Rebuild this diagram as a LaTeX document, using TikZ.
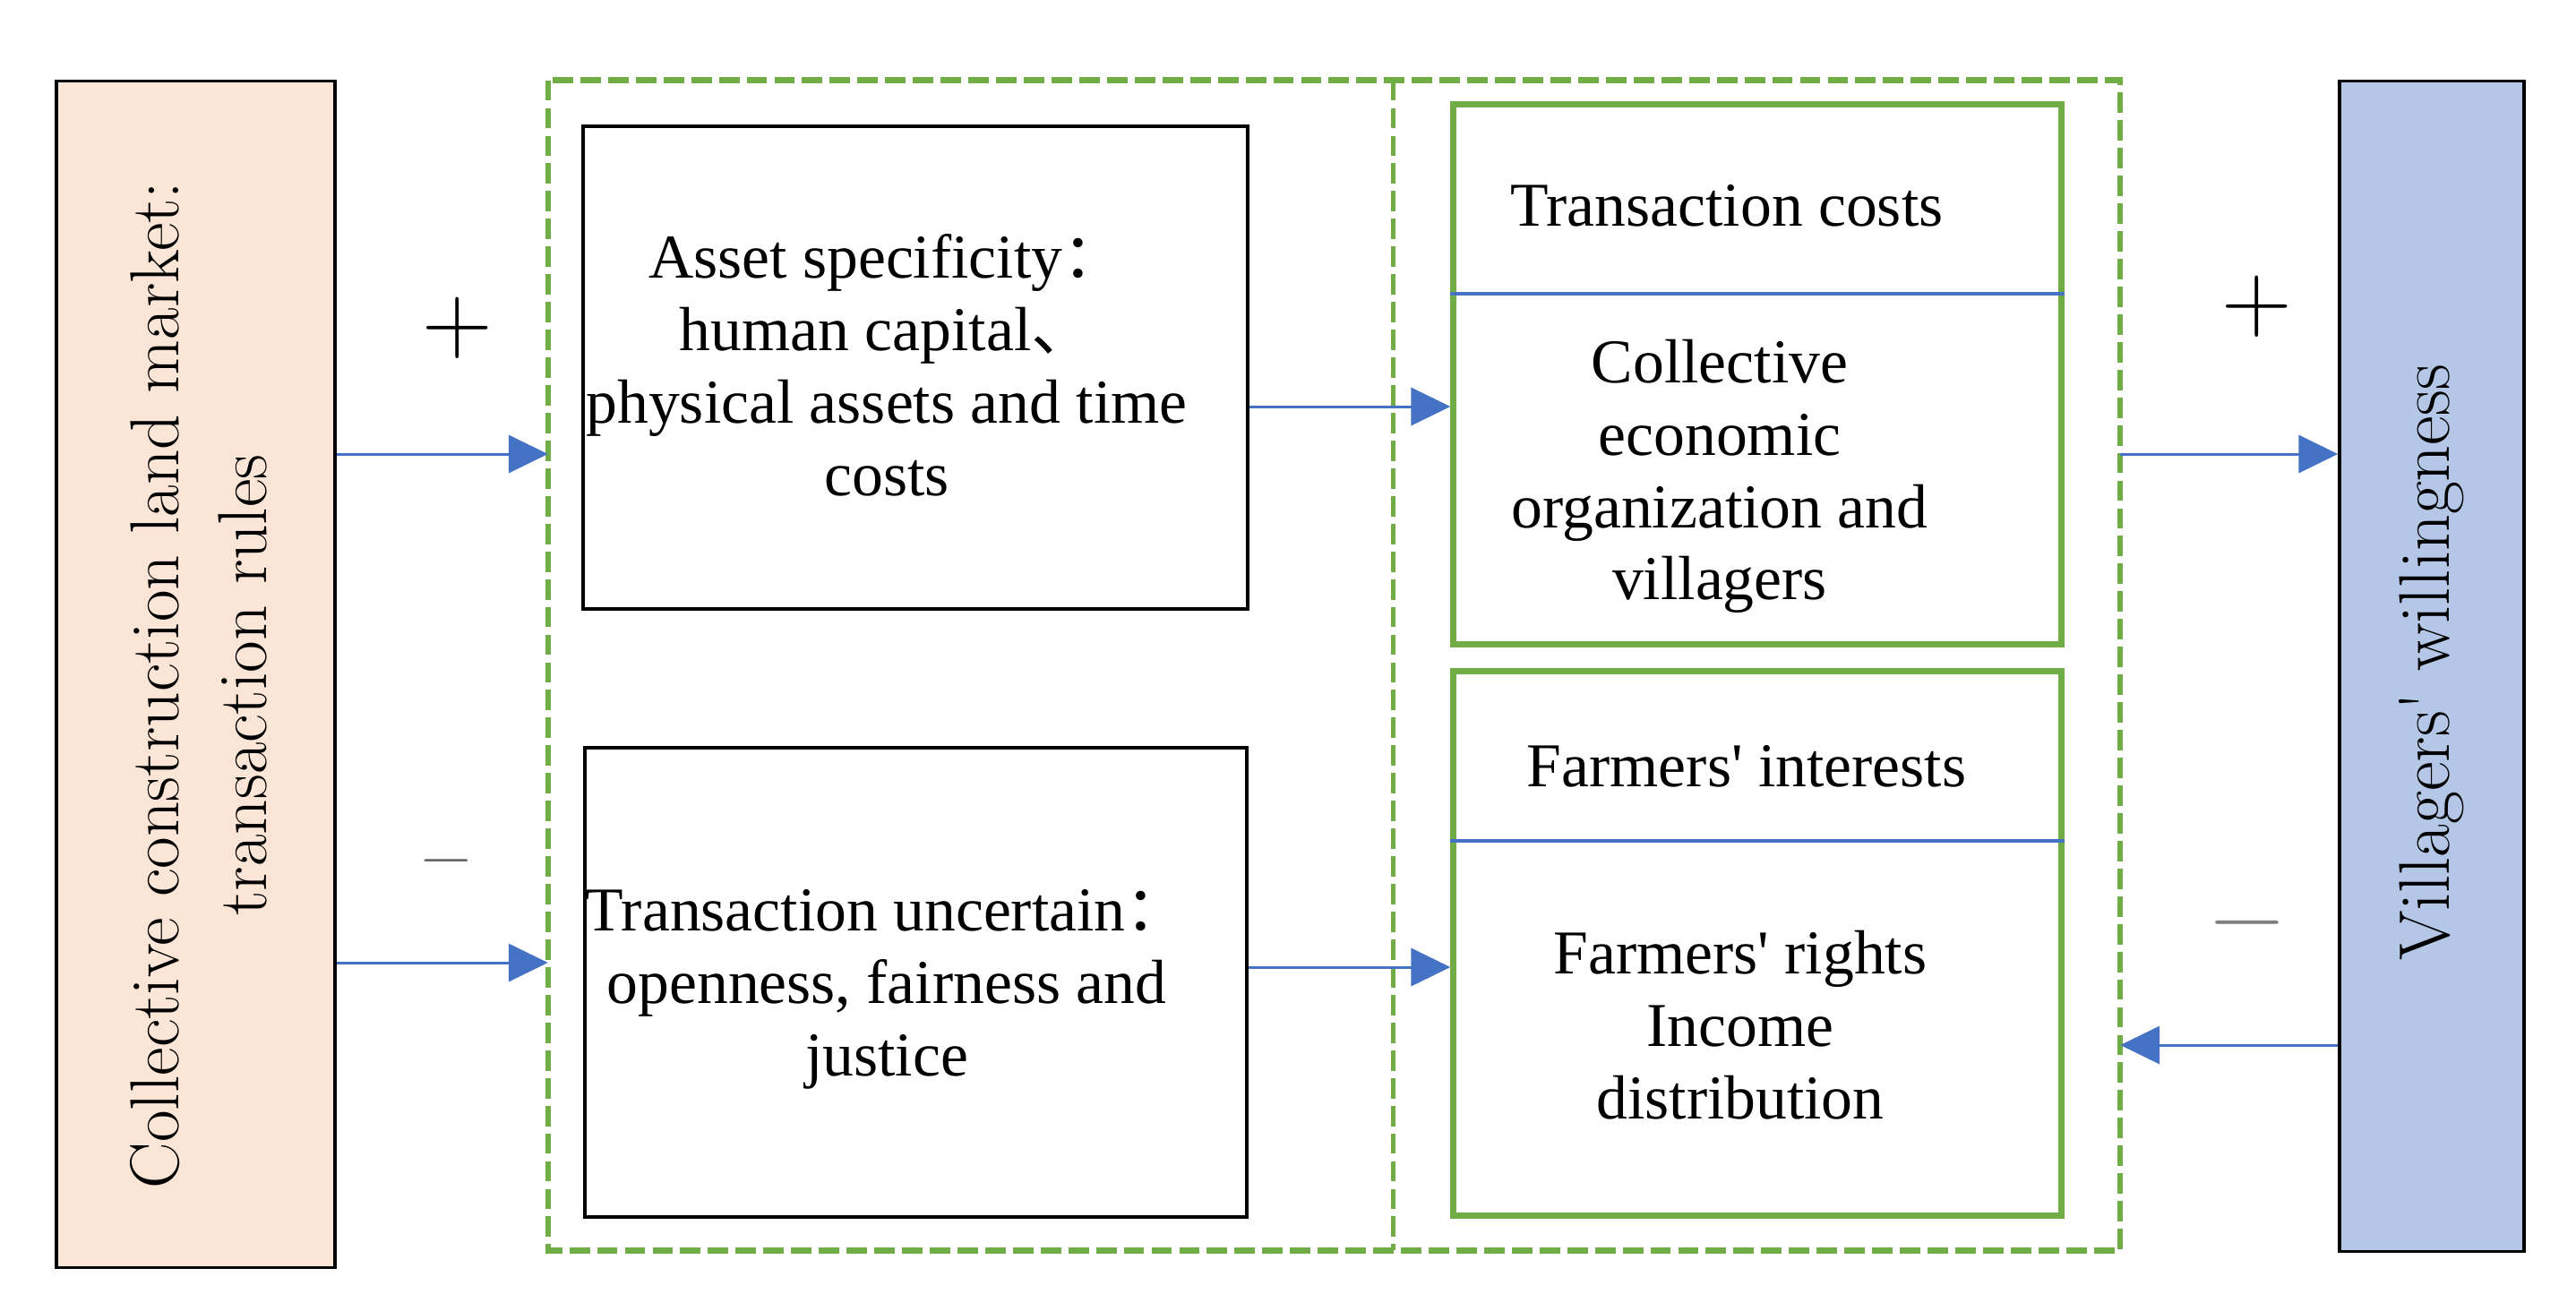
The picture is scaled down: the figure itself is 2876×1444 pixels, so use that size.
\documentclass[tikz,border=0pt]{standalone}
\usepackage{fontspec}
\newfontfamily\tnr{Liberation Serif}
\newfontfamily\cjk{Noto Sans CJK SC}
\usetikzlibrary{arrows.meta}
\definecolor{peach}{HTML}{FBE5D6}
\definecolor{lblue}{HTML}{B4C7E7}
\definecolor{grn}{HTML}{70AD47}
\definecolor{ablue}{HTML}{4472C4}
\begin{document}
\begin{tikzpicture}[x=0.01cm,y=-0.01cm,
  blackbox/.style={draw=black,line width=1pt,inner sep=0pt},
  greenbox/.style={draw=grn,line width=2pt,inner sep=0pt},
  group/.style={draw=grn,line width=1.8pt,dash pattern=on 6.5pt off 2.3pt},
  middash/.style={draw=grn,line width=1.4pt,dash pattern=on 6.5pt off 2.3pt},
  divline/.style={draw=ablue,line width=0.9pt},
  arr/.style={draw=ablue,line width=0.85pt,-{Triangle[length=12.5pt,width=12pt]}},
  mtext/.style={font={\tnr\fontsize{19.8pt}{23pt}\selectfont},align=center,inner sep=0pt},
  rottext/.style={rotate=90,align=center,inner sep=0pt},
  sign/.style={inner sep=0pt}]
\useasboundingbox (0,0) rectangle (2876,1444);
% main boxes
\node[blackbox,fill=peach,minimum width=3.11cm,minimum height=13.24cm] (lbox) at (218.5,753) {};
\node[blackbox,fill=lblue,minimum width=2.06cm,minimum height=13.06cm] (rbox) at (2715,744) {};
\node[inner sep=0pt,outer sep=0pt,minimum width=9.43cm,minimum height=13.06cm] (grpL) at (1083.5,743) {};
\node[inner sep=0pt,outer sep=0pt,minimum width=8.12cm,minimum height=13.06cm] (grpR) at (1961,743) {};
\draw[group] (grpL.north west) rectangle (grpR.south east);
\draw[middash] (grpL.north east) -- (grpL.south east);
\node[blackbox,minimum width=7.42cm,minimum height=5.39cm] (asset) at (1022,410.5) {};
\node[blackbox,minimum width=7.39cm,minimum height=5.24cm] (uncert) at (1022.5,1097) {};
\node[greenbox,minimum width=6.78cm,minimum height=6.02cm] (g1) at (1962,418) {};
\node[greenbox,minimum width=6.78cm,minimum height=6.07cm] (g2) at (1962,1053.5) {};
% dividers
\coordinate (d1) at (0,328);
\coordinate (d2) at (0,939);
\draw[divline] (g1.west |- d1) -- (g1.east |- d1);
\draw[divline] (g2.west |- d2) -- (g2.east |- d2);
% texts
\node[rottext,font={\fontsize{22pt}{28pt}\selectfont}] (lT) at (222,765) {Collective construction land market:\\transaction rules};
\node[rottext,font={\fontsize{22.8pt}{28pt}\selectfont}] (rT) at (2715,740) {Villagers\textquotesingle\ willingness};
\node[mtext] (assetT) at (990,408) {Asset specificity{\cjk ：}\\human capital{\cjk 、}\\physical assets and time\\costs};
\node[mtext] (uncertT) at (990,1105) {Transaction uncertain{\cjk ：}\\openness, fairness and\\justice};
\node[mtext,anchor=base] (g1title) at (1928,252) {Transaction costs};
\node[mtext] (g1T) at (1920,532) {Collective\\economic\\organization and\\villagers};
\node[mtext,anchor=base] (g2title) at (1950,878) {Farmers\textquotesingle\ interests};
\node[mtext] (g2T) at (1943,1145) {Farmers\textquotesingle\ rights\\Income\\distribution};
% signs
\node[sign,font={\fontsize{31pt}{31pt}\selectfont}] (p1) at (511,366) {+};
\node[sign,font={\fontsize{31pt}{31pt}\selectfont}] (p2) at (2520,342) {+};
\node[sign,text=black!60,font={\fontsize{22pt}{22pt}\selectfont}] (m1) at (498,970) {−};
\node[sign,text=black!50,font={\fontsize{32pt}{32pt}\selectfont}] (m2) at (2509,1043) {−};
% arrows
\coordinate (ya) at (0,507);
\coordinate (yb) at (0,1075);
\coordinate (yc) at (0,454);
\coordinate (yd) at (0,1080);
\coordinate (ye) at (0,1167);
\draw[arr] (lbox.east |- ya) -- (grpL.west |- ya);
\draw[arr] (lbox.east |- yb) -- (grpL.west |- yb);
\draw[arr] (asset.east |- yc) -- (g1.west |- yc);
\draw[arr] (uncert.east |- yd) -- (g2.west |- yd);
\draw[arr] (grpR.east |- ya) -- (rbox.west |- ya);
\draw[arr] (rbox.west |- ye) -- (grpR.east |- ye);
\end{tikzpicture}
\end{document}
